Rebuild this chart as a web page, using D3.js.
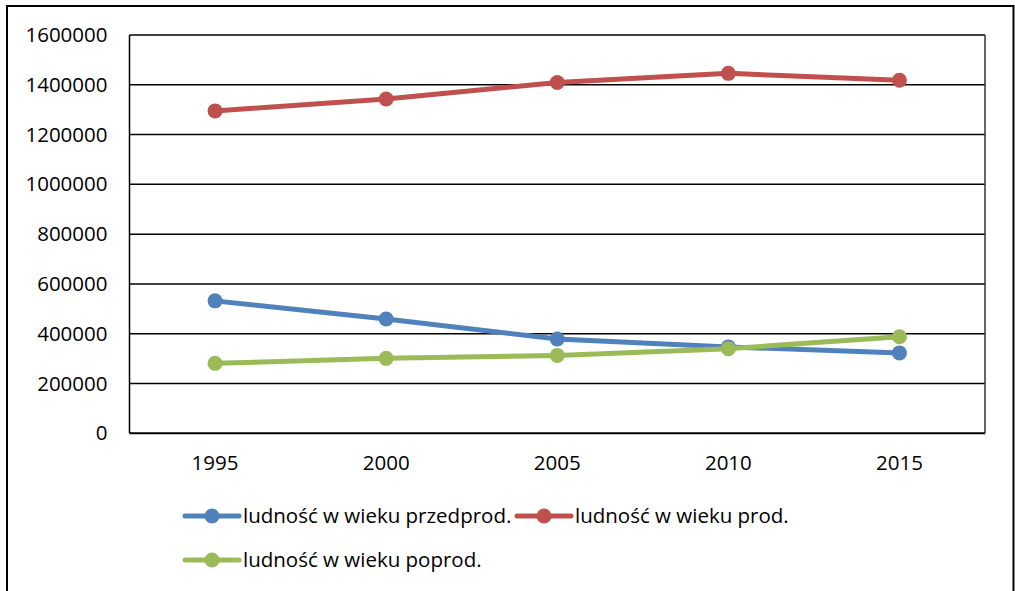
<!DOCTYPE html>
<html><head><meta charset="utf-8">
<script src="https://cdn.jsdelivr.net/npm/d3@7"></script>
<style>body{margin:0;background:#fff}svg{display:block}text{font-family:"Open Sans",sans-serif;fill:#000}</style>
</head><body><svg id="c" width="1015" height="591"></svg>
<script>
const years = ["1995","2000","2005","2010","2015"];
const przedprod = [532000, 459000, 379000, 347000, 323000];
const prod = [1295000, 1343000, 1409000, 1446000, 1418000];
const poprod = [281000, 301000, 313000, 340000, 388000];
const yTicks = [0,200000,400000,600000,800000,1000000,1200000,1400000,1600000];
const seriesNames = ["ludność w wieku przedprod.","ludność w wieku prod.","ludność w wieku poprod."];
const colors = ["#4F81BD","#C0504D","#9BBB59"];
const series = [przedprod, prod, poprod];
const FS = "20.5px";

const svg = d3.select("#c");
svg.append("rect").attr("x",7).attr("y",6).attr("width",1006.5).attr("height",600)
  .attr("fill","#fff").attr("stroke","#000").attr("stroke-width",2);

const L=129.5, R=985, T=35, B=433.3;
const x = d3.scaleBand().domain(years).range([L,R]);
const y = d3.scaleLinear().domain([0,1600000]).range([B,T]);

const g = svg.append("g");
g.selectAll("line.grid").data(yTicks).join("line")
  .attr("x1",L).attr("x2",R).attr("y1",d=>y(d)).attr("y2",d=>y(d))
  .attr("stroke","#000").attr("stroke-width",d=>d===0?2:1.5);
g.append("line").attr("x1",L).attr("x2",L).attr("y1",T).attr("y2",B).attr("stroke","#000").attr("stroke-width",1.5);
g.append("line").attr("x1",R).attr("x2",R).attr("y1",T).attr("y2",B).attr("stroke","#333").attr("stroke-width",1.5);

const yAxis = d3.axisLeft(y).tickValues(yTicks).tickSize(0).tickPadding(22).tickFormat(d3.format("d"));
const ya = svg.append("g").attr("transform",`translate(${L},0)`).call(yAxis);
ya.select(".domain").remove();
ya.selectAll("text").style("font-size",FS).style("font-family","Open Sans").attr("fill","#000");

const xAxis = d3.axisBottom(x).tickSize(0).tickPadding(22);
const xa = svg.append("g").attr("transform",`translate(0,${B})`).call(xAxis);
xa.select(".domain").remove();
xa.selectAll("text").style("font-size",FS).style("font-family","Open Sans").attr("fill","#000");

const line = d3.line().x((d,i)=>x(years[i])+x.bandwidth()/2).y(d=>y(d));
series.forEach((s,k)=>{
  svg.append("path").datum(s).attr("d",line).attr("fill","none")
    .attr("stroke",colors[k]).attr("stroke-width",5).attr("stroke-linejoin","round");
  svg.selectAll(null).data(s).join("circle")
    .attr("cx",(d,i)=>x(years[i])+x.bandwidth()/2).attr("cy",d=>y(d)).attr("r",7.5).attr("fill",colors[k]);
});

const legPos = [[185,516],[517,516],[185,560]];
seriesNames.forEach((n,k)=>{
  const [lx,ly]=legPos[k];
  const lg = svg.append("g").attr("transform",`translate(${lx},${ly})`);
  lg.append("line").attr("x1",0).attr("x2",54).attr("y1",0).attr("y2",0).attr("stroke",colors[k]).attr("stroke-width",5).attr("stroke-linecap","round");
  lg.append("circle").attr("cx",27).attr("cy",0).attr("r",7.5).attr("fill",colors[k]);
  lg.append("text").attr("x",58).attr("y",0).attr("dy","0.35em").style("font-size",FS).text(n);
});
</script></body></html>
